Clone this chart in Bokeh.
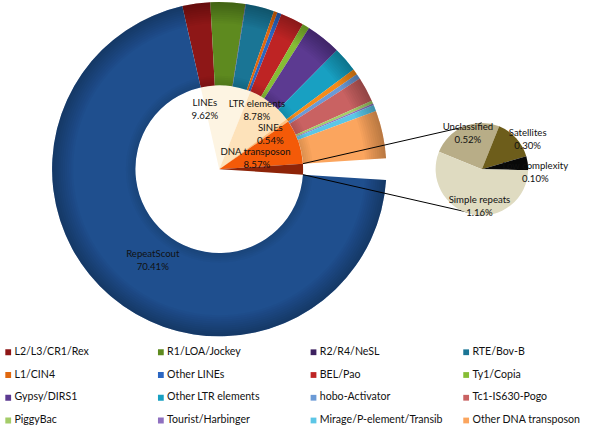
import numpy as np
from bokeh.plotting import figure
from bokeh.models import Range1d
from bokeh.core.properties import value
from bokeh.embed import file_html
from bokeh.resources import INLINE

# ---------------- data ----------------
# inner pie (clockwise from top)
main_labels = ["LINEs", "LTR elements", "SINEs", "DNA transposon", "Other", "RepeatScout"]
main_values = [9.62, 8.78, 0.54, 8.57, 2.08, 70.41]
main_colors = ["#fdf4e2", "#fde2ba", "#fbc07e", "#f45a08", "#8e2408", None]

# outer ring subcategories (clockwise, same order as legend, SINEs inserted)
sub_labels = ["L2/L3/CR1/Rex", "R1/LOA/Jockey", "R2/R4/NeSL", "RTE/Bov-B", "L1/CIN4", "Other LINEs",
              "BEL/Pao", "Ty1/Copia", "Gypsy/DIRS1", "Other LTR elements",
              "SINEs",
              "hobo-Activator", "Tc1-IS630-Pogo", "PiggyBac", "Tourist/Harbinger",
              "Mirage/P-element/Transib", "Other DNA transposon"]
sub_values = [2.70, 3.35, 0.05, 2.75, 0.35, 0.42,
              2.25, 0.70, 3.40, 2.43,
              0.54,
              0.50, 2.40, 0.30, 0.15, 0.60, 4.62]
sub_colors = ["#8e1717", "#5e8a1f", "#3d2160", "#1a7595", "#e0680f", "#2b66c2",
              "#be2424", "#86bd35", "#5c3a91", "#18a0c2",
              "#f58b1a",
              "#6b9ad6", "#c96262", "#a4cc68", "#8f70c0", "#5cc6e6", "#fba55e"]
repeat_value = 70.41
repeat_color = "#1f4f8e"

# secondary pie (clockwise)
other_labels = ["Unclassified", "Satellites", "Low complexity", "Simple repeats"]
other_values = [0.52, 0.30, 0.10, 1.16]
other_colors = ["#b8ad87", "#6d5d1b", "#080808", "#dfdbc1"]

# legend
legend_labels = ["L2/L3/CR1/Rex", "R1/LOA/Jockey", "R2/R4/NeSL", "RTE/Bov-B",
                 "L1/CIN4", "Other LINEs", "BEL/Pao", "Ty1/Copia",
                 "Gypsy/DIRS1", "Other LTR elements", "hobo-Activator", "Tc1-IS630-Pogo",
                 "PiggyBac", "Tourist/Harbinger", "Mirage/P-element/Transib", "Other DNA transposon"]

# ---------------- layout ----------------
H = 441.0
S = 425.0 / 441.0  # px per data unit
FONT = value("Lato")
LBL = "%.1fpx" % (10 * S)
LEG = "%.1fpx" % (11 * S)

def Y(y):
    return H - y

CX, CY = 224.0, 175.0
R_OUT, R_IN = 173.5, 87.0
CX2, CY2, R2 = 496.5, 175.0, 48.0

p = figure(width=584, height=425, output_backend="svg", toolbar_location=None,
           x_range=Range1d(-3, 603), y_range=Range1d(0, H),
           x_axis_type=None, y_axis_type=None, min_border=0)
p.outline_line_color = None
p.grid.visible = False

deg = np.pi / 180.0
other_total = main_values[4]
# start angle of the LINEs slice (clockwise), chosen so that "Other" is centred at 3 o'clock
start = (other_total / 2 + sum(main_values[:4])) * 3.6 * deg

# inner pie
mv = np.array(main_values)
ends_cw = start - np.cumsum(mv) * 3.6 * deg
starts_cw = np.concatenate([[start], ends_cw[:-1]])
idx = [i for i, c in enumerate(main_colors) if c is not None]
p.wedge(x=CX, y=Y(CY), radius=R_IN,
        start_angle=[ends_cw[i] for i in idx], end_angle=[starts_cw[i] for i in idx],
        fill_color=[main_colors[i] for i in idx], line_color=None)

# outer ring: sub-categories, gap for the exploded "Other" slice, RepeatScout
vals = np.array(sub_values + [other_total, repeat_value])
cols = sub_colors + [None, repeat_color]
e = start - np.cumsum(vals) * 3.6 * deg
s0 = np.concatenate([[start], e[:-1]])
keep = [i for i, c in enumerate(cols) if c is not None]
p.annular_wedge(x=CX, y=Y(CY), inner_radius=R_IN, outer_radius=R_OUT,
                start_angle=[e[i] for i in keep], end_angle=[s0[i] for i in keep],
                fill_color=[cols[i] for i in keep], line_color=None)

# soft shading of the ring edges (smooth gradient approximation)
ga = other_total / 2 * 3.6 * deg
bands = []
for k in range(10):
    bands.append((R_OUT - 2.2 * (k + 1), R_OUT, 0.028))
for k in range(5):
    bands.append((R_IN, R_IN + 2.0 * (k + 1), 0.022))
for r0, r1, a in bands:
    p.annular_wedge(x=CX, y=Y(CY), inner_radius=r0, outer_radius=r1,
                    start_angle=ga, end_angle=2 * np.pi - ga,
                    fill_color="black", fill_alpha=a, line_color=None)

# connector lines from the "Other" slice to the secondary pie
x0s = [CX + R_IN * np.cos(ga), CX + R_IN * np.cos(-ga)]
y0s = [Y(CY) + R_IN * np.sin(ga), Y(CY) + R_IN * np.sin(-ga)]
p.segment(x0=x0s, y0=y0s, x1=[CX2, CX2], y1=[Y(CY2) + R2, Y(CY2) - R2],
          line_color="black", line_width=1)

# secondary pie
ov = np.array(other_values)
sa2 = 158 * deg
e2 = sa2 - np.cumsum(ov) / ov.sum() * 2 * np.pi
s2 = np.concatenate([[sa2], e2[:-1]])
p.wedge(x=CX2, y=Y(CY2), radius=R2, start_angle=e2, end_angle=s2,
        fill_color=other_colors, line_color=None)

# data labels
lab_names = ["LINEs", "LTR elements", "SINEs", "DNA  transposon", "RepeatScout",
             "Unclassified", "Satellites", "Low complexity", "Simple repeats"]
lab_vals = [main_values[0], main_values[1], main_values[2], main_values[3], main_values[5]] + other_values
lab_x = [209, 263, 277, 263, 155, 482, 544, 552, 494]
lab_y = [106, 107, 132, 157, 263, 131, 137, 171, 207]
p.text(x=lab_x, y=[Y(v) for v in lab_y], text=lab_names, text_font=FONT, text_font_size=LBL,
       text_align="center", text_baseline="middle", text_color="#111111")
p.text(x=lab_x, y=[Y(v + 13.3) for v in lab_y], text=["%.2f%%" % v for v in lab_vals],
       text_font=FONT, text_font_size=LBL, text_align="center", text_baseline="middle",
       text_color="#111111")

# legend
leg_colors = [c for l, c in zip(sub_labels, sub_colors) if l in legend_labels]
lx = [2 + (i % 4) * 158.4 for i in range(len(legend_labels))]
ly = [363.5 + (i // 4) * 23.6 for i in range(len(legend_labels))]
p.scatter(x=[x + 3 for x in lx], y=[Y(y + 1.5) for y in ly], marker="square", size=6 * S,
          fill_color=leg_colors, line_color=None)
p.text(x=[x + 9.5 for x in lx], y=[Y(y) for y in ly], text=legend_labels, text_font=FONT,
       text_font_size=LEG, text_baseline="middle", text_align="left", text_color="#111111")

open("out.html", "w").write(file_html(p, INLINE))
